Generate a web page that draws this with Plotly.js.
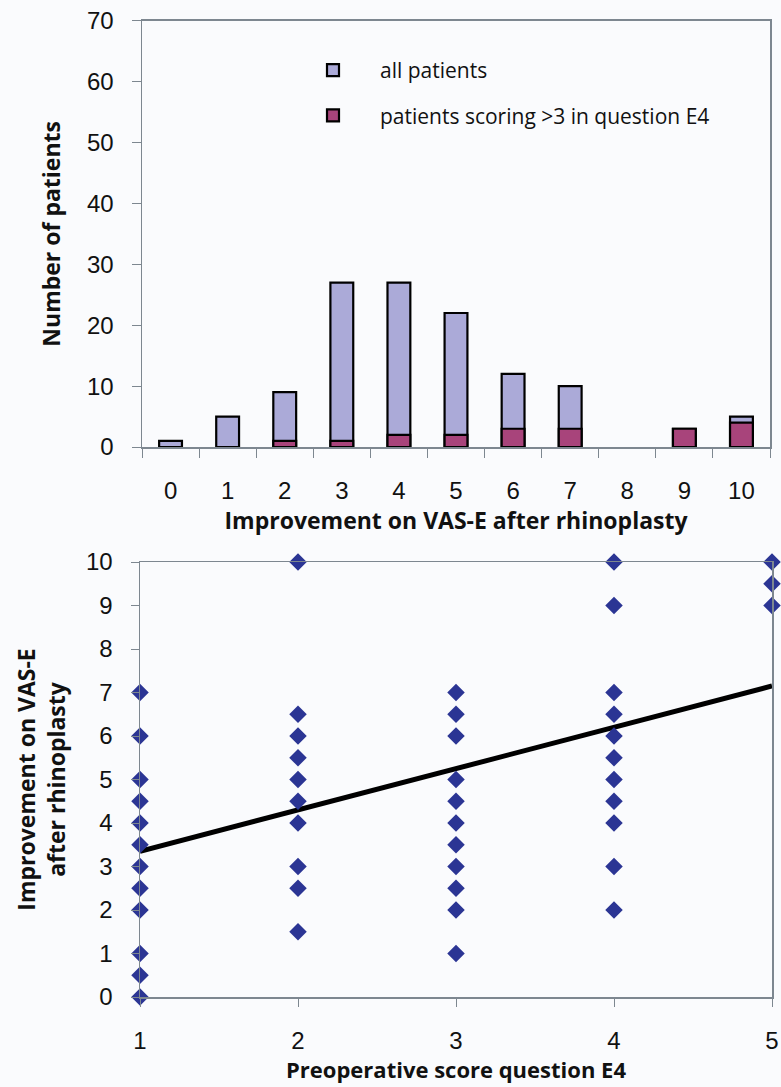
<!DOCTYPE html>
<html>
<head>
<meta charset="utf-8">
<script src="https://cdn.plot.ly/plotly-3.0.1.min.js"></script>
<style>
html,body{margin:0;padding:0;background:#fafbfd;}
#chart{width:781px;height:1087px;}
</style>
</head>
<body>
<div id="chart"></div>
<script>
// ---- Top chart data ----
var improvementCats = ["0","1","2","3","4","5","6","7","8","9","10"];
var allPatients     = [1, 5, 9, 27, 27, 22, 12, 10, 0, 3, 5];
var highScorers     = [0, 0, 1, 1, 2, 2, 3, 3, 0, 3, 4];
var legendAll  = "all patients";
var legendHigh = "patients scoring >3 in question E4";

// ---- Bottom chart data ----
var preopScore = [1,1,1,1,1,1,1,1,1,1,1,1,
                  2,2,2,2,2,2,2,2,2,2,
                  3,3,3,3,3,3,3,3,3,3,3,
                  4,4,4,4,4,4,4,4,4,4,4,
                  5,5,5];
var vasImprovement = [7,6,5,4.5,4,3.5,3,2.5,2,1,0.5,0,
                      10,6.5,6,5.5,5,4.5,4,3,2.5,1.5,
                      7,6.5,6,5,4.5,4,3.5,3,2.5,2,1,
                      10,9,7,6.5,6,5.5,5,4.5,4,3,2,
                      10,9.5,9];
var trendX = [1, 5];
var trendY = [3.35, 7.15];

var W = 781, H = 1087;
var ML = 140, MR = 0, MT = 0, MB = 90;
function px(x){ return (x - ML) / (W - ML - MR); }
function py(y){ return (H - MB - y) / (H - MB - MT); }
function hideZero(arr){ return arr.map(function(v){ return v === 0 ? null : v; }); }

var tickFont  = {family: "Liberation Sans, Arial, sans-serif", size: 24, color: "#111"};
var titleFont = {family: "Open Sans, Lato, sans-serif", size: 23, color: "#111", weight: 700};
var titleFontB = {family: "Open Sans, Lato, sans-serif", size: 22, color: "#111", weight: 700};
var axisLine  = "#7d8790";

var traces = [
  {type: "bar", x: improvementCats, y: hideZero(allPatients), name: legendAll,
   xaxis: "x", yaxis: "y", width: 0.4, legendgroup: "a",
   marker: {color: "#abaad8", line: {color: "#000", width: 2.2}}},
  {type: "bar", x: improvementCats, y: hideZero(highScorers), name: legendHigh,
   xaxis: "x", yaxis: "y", width: 0.4, legendgroup: "b",
   marker: {color: "#a8447b", line: {color: "#000", width: 2.2}}},
  {type: "scatter", mode: "lines", x: trendX, y: trendY, xaxis: "x2", yaxis: "y2",
   line: {color: "#000", width: 5}, showlegend: false, cliponaxis: false},
  {type: "scatter", mode: "markers", x: preopScore, y: vasImprovement, xaxis: "x2", yaxis: "y2",
   marker: {symbol: "diamond", size: 13.5, color: "#2b3594"}, showlegend: false, cliponaxis: false}
];

var layout = {
  width: W, height: H,
  margin: {l: ML, r: MR, t: MT, b: MB},
  paper_bgcolor: "#fafbfd", plot_bgcolor: "#fafbfd",
  barmode: "overlay",
  showlegend: true,
  legend: {x: px(286), y: py(50), xanchor: "left", yanchor: "top",
           bgcolor: "rgba(0,0,0,0)", itemwidth: 84,
           font: {family: "Open Sans, Lato, sans-serif", size: 21, color: "#111"},
           traceorder: "grouped", tracegroupgap: 15},
  xaxis: {domain: [px(142), px(770)], anchor: "y", type: "category",
          tickson: "boundaries", ticks: "outside", ticklen: 9, tickcolor: axisLine,
          showline: true, linecolor: axisLine, linewidth: 1.5, mirror: true,
          showgrid: false, tickfont: tickFont, ticklabelstandoff: 22,
          title: {text: "Improvement on VAS-E after rhinoplasty", font: titleFont, standoff: 0}},
  yaxis: {domain: [py(447), py(20.7)], anchor: "x", range: [0, 70], dtick: 10,
          ticks: "outside", ticklen: 9, tickcolor: axisLine,
          showline: true, linecolor: axisLine, linewidth: 1.5, mirror: true,
          showgrid: false, zeroline: false, tickfont: tickFont, ticklabelstandoff: 13,
          title: {text: "Number of patients", font: titleFont, standoff: 20}},
  xaxis2: {domain: [px(140), px(772)], anchor: "y2", range: [1, 5], dtick: 1,
           ticks: "outside", ticklen: 8, tickcolor: axisLine,
           showline: true, linecolor: axisLine, linewidth: 1.5, mirror: true,
           showgrid: false, zeroline: false, tickfont: tickFont, ticklabelstandoff: 14,
           title: {text: "Preoperative score question E4", font: titleFontB, standoff: 8}},
  yaxis2: {domain: [py(997), py(562)], anchor: "x2", range: [0, 10], dtick: 1,
           ticks: "outside", ticklen: 8, tickcolor: axisLine,
           showline: true, linecolor: axisLine, linewidth: 1.5, mirror: true,
           showgrid: false, zeroline: false, tickfont: tickFont, ticklabelstandoff: 13,
           title: {text: "Improvement on VAS-E<br>after rhinoplasty", font: titleFont, standoff: 14}}
};

Plotly.newPlot("chart", traces, layout, {displayModeBar: false, staticPlot: true});
</script>
</body>
</html>
